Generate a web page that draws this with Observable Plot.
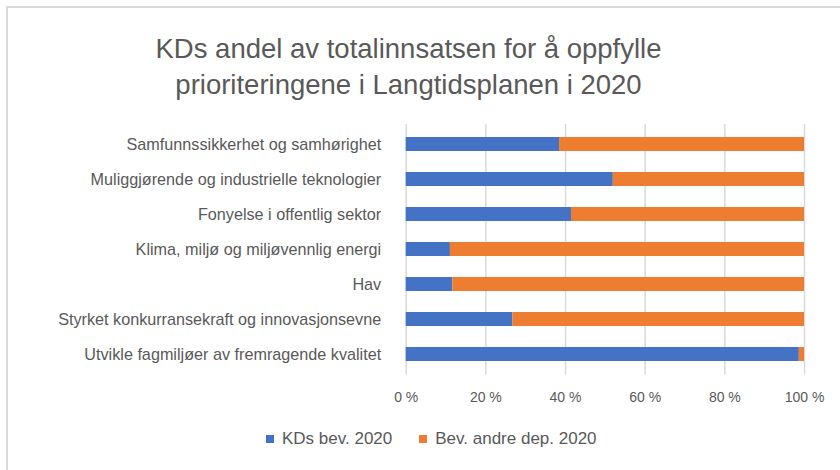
<!DOCTYPE html>
<html>
<head>
<meta charset="utf-8">
<script src="https://cdn.jsdelivr.net/npm/d3@7"></script>
<script src="https://cdn.jsdelivr.net/npm/@observablehq/plot@0.6"></script>
<style>
  html, body { margin: 0; padding: 0; background: #fff; }
  #wrap { position: relative; width: 840px; height: 470px; overflow: hidden; font-family: "Liberation Sans", Arial, sans-serif; color: #595959; }
  #frame { position: absolute; left: 6px; top: 6px; width: 900px; height: 500px; border-left: 2px solid #d9d9d9; border-top: 2px solid #d9d9d9; box-sizing: border-box; }
  #title { position: absolute; left: 0; width: 817px; top: 31px; text-align: center; font-size: 27.5px; line-height: 36px; color: #595959; }
  #chart { position: absolute; left: 0; top: 0; }
  #legend { position: absolute; top: 429px; left: 266px; font-size: 17px; color: #595959; display: flex; align-items: center; white-space: nowrap; }
  .sw { display: inline-block; width: 8px; height: 8px; margin-right: 8px; }
  .item { display: flex; align-items: center; margin-right: 27px; }
</style>
</head>
<body>
<div id="wrap">
  <div id="frame"></div>
  <div id="chart"></div>
  <div id="title">KDs andel av totalinnsatsen for å oppfylle<br>prioriteringene i Langtidsplanen i 2020</div>
  <div id="legend"></div>
</div>
<script>
const categories = [
  "Samfunnssikkerhet og samhørighet",
  "Muliggjørende og industrielle teknologier",
  "Fonyelse i offentlig sektor",
  "Klima, miljø og miljøvennlig energi",
  "Hav",
  "Styrket konkurransekraft og innovasjonsevne",
  "Utvikle fagmiljøer av fremragende kvalitet"
];
const seriesNames = ["KDs bev. 2020", "Bev. andre dep. 2020"];
const kdValues = [38.5, 52.0, 41.5, 11.1, 11.7, 26.8, 98.7];
const otherValues = [61.5, 48.0, 58.5, 88.9, 88.3, 73.2, 1.3];
const seriesColors = ["#4472C4", "#ED7D31"];
const xTicks = [0, 20, 40, 60, 80, 100];

const data = [];
categories.forEach((c, i) => {
  data.push({category: c, series: seriesNames[0], value: kdValues[i]});
  data.push({category: c, series: seriesNames[1], value: otherValues[i]});
});

const chart = Plot.plot({
  width: 840,
  height: 410,
  marginLeft: 405.7,
  marginRight: 36,
  marginTop: 124,
  marginBottom: 35.5,
  style: {fontFamily: "'Liberation Sans', Arial, sans-serif", color: "#595959", background: "transparent"},
  x: {domain: [0, 100], ticks: xTicks, tickFormat: d => d + " %", tickSize: 0, tickPadding: 17, label: null},
  y: {domain: categories, paddingInner: 0.6, paddingOuter: 0.3, label: null, tickSize: 0, tickPadding: 25},
  color: {domain: seriesNames, range: seriesColors},
  marks: [
    Plot.gridX(xTicks, {stroke: "#d9d9d9", strokeOpacity: 1, strokeWidth: 1.5}),
    Plot.barX(data, Plot.stackX({x: "value", y: "category", fill: "series", order: seriesNames})),
    Plot.axisX({ticks: xTicks, tickFormat: d => d + " %", tickSize: 0, tickPadding: 17, fontSize: 14, fill: "#595959", label: null}),
    Plot.axisY({tickSize: 0, tickPadding: 25, fontSize: 16.2, fill: "#595959", label: null})
  ]
});
document.getElementById("chart").appendChild(chart);

const legend = document.getElementById("legend");
seriesNames.forEach((name, i) => {
  const item = document.createElement("span");
  item.className = "item";
  const sw = document.createElement("span");
  sw.className = "sw";
  sw.style.background = seriesColors[i];
  item.appendChild(sw);
  item.appendChild(document.createTextNode(name));
  legend.appendChild(item);
});
</script>
</body>
</html>
